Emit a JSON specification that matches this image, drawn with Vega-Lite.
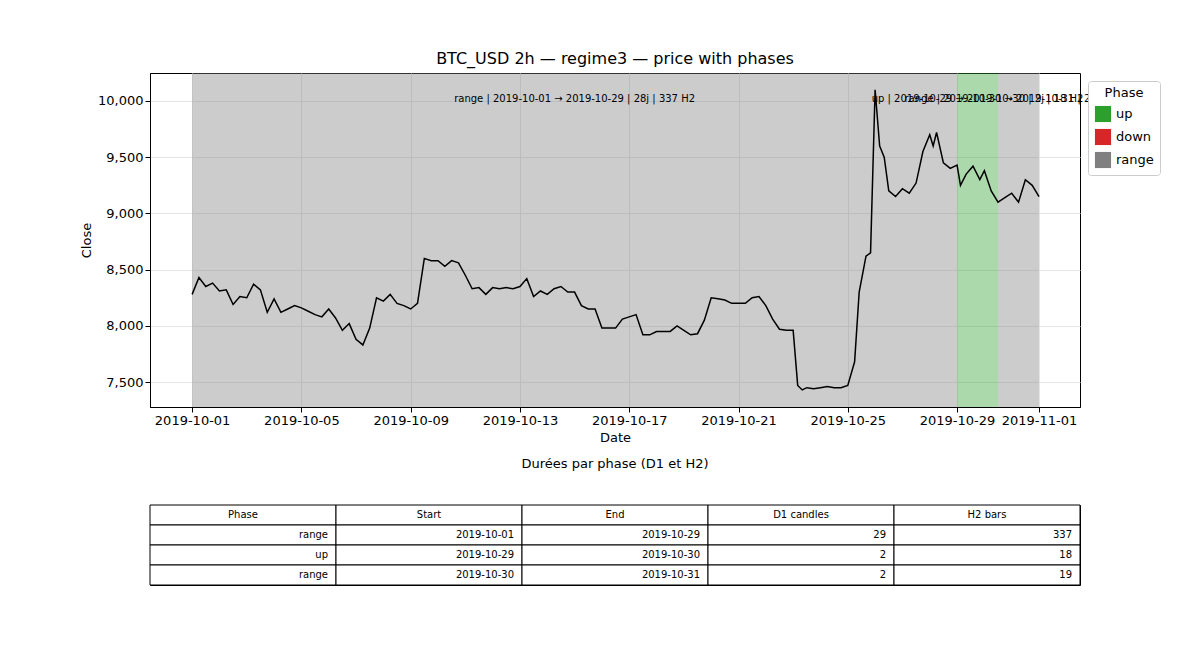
{
  "$schema": "https://vega.github.io/schema/vega-lite/v6.json",
  "autosize": {"type": "pad"},
  "padding": {"left": 80, "top": 50, "right": 5, "bottom": 5},
  "background": "white",
  "config": {
    "font": "DejaVu Sans",
    "view": {"stroke": "black", "strokeWidth": 1},
    "axis": {"labelFontSize": 13, "titleFontSize": 13, "labelColor": "black", "titleColor": "black", "tickColor": "black", "domainColor": "black", "titleFontWeight": "normal", "gridColor": "#e6e6e6"},
    "title": {"fontWeight": "normal", "color": "black"}
  },
  "spacing": 12,
  "vconcat": [
    {
      "width": 930,
      "height": 334,
      "title": {"text": "BTC_USD 2h — regime3 — price with phases", "fontSize": 16, "offset": 6},
      "layer": [
        {
          "data": {"values": [
            {"phase": "range", "start": "2019-10-01T00:00", "end": "2019-10-29T00:00"},
            {"phase": "up", "start": "2019-10-29T00:00", "end": "2019-10-30T12:00"},
            {"phase": "range", "start": "2019-10-30T12:00", "end": "2019-11-01T00:00"}
          ]},
          "mark": {"type": "rect", "opacity": 0.4},
          "encoding": {
            "x": {"field": "start", "type": "temporal"},
            "x2": {"field": "end"},
            "color": {
              "field": "phase", "type": "nominal",
              "scale": {"domain": ["up", "down", "range"], "range": ["#2ca02c", "#d62728", "#808080"]},
              "legend": {
                "title": "Phase", "orient": "none", "legendX": 938, "legendY": 8,
                "symbolType": "square", "symbolSize": 260, "symbolOpacity": 1,
                "titleFontSize": 13, "titleFontWeight": "normal", "labelFontSize": 13,
                "titleAnchor": "middle", "fillColor": "white", "strokeColor": "#cccccc",
                "padding": 6, "cornerRadius": 3, "rowPadding": 5
              }
            }
          }
        },
        {
          "data": {"values": [
            {"t": "2019-10-01T00:00", "c": 8280}, {"t": "2019-10-01T06:00", "c": 8430}, {"t": "2019-10-01T12:00", "c": 8350}, {"t": "2019-10-01T18:00", "c": 8380},
            {"t": "2019-10-02T00:00", "c": 8310}, {"t": "2019-10-02T06:00", "c": 8320}, {"t": "2019-10-02T12:00", "c": 8190}, {"t": "2019-10-02T18:00", "c": 8260},
            {"t": "2019-10-03T00:00", "c": 8250}, {"t": "2019-10-03T06:00", "c": 8370}, {"t": "2019-10-03T12:00", "c": 8320}, {"t": "2019-10-03T18:00", "c": 8120},
            {"t": "2019-10-04T00:00", "c": 8240}, {"t": "2019-10-04T06:00", "c": 8120}, {"t": "2019-10-04T12:00", "c": 8150}, {"t": "2019-10-04T18:00", "c": 8180},
            {"t": "2019-10-05T00:00", "c": 8160}, {"t": "2019-10-05T06:00", "c": 8130}, {"t": "2019-10-05T12:00", "c": 8100}, {"t": "2019-10-05T18:00", "c": 8080},
            {"t": "2019-10-06T00:00", "c": 8150}, {"t": "2019-10-06T06:00", "c": 8070}, {"t": "2019-10-06T12:00", "c": 7960}, {"t": "2019-10-06T18:00", "c": 8020},
            {"t": "2019-10-07T00:00", "c": 7880}, {"t": "2019-10-07T06:00", "c": 7830}, {"t": "2019-10-07T12:00", "c": 7980}, {"t": "2019-10-07T18:00", "c": 8250},
            {"t": "2019-10-08T00:00", "c": 8220}, {"t": "2019-10-08T06:00", "c": 8280}, {"t": "2019-10-08T12:00", "c": 8200}, {"t": "2019-10-08T18:00", "c": 8180},
            {"t": "2019-10-09T00:00", "c": 8150}, {"t": "2019-10-09T06:00", "c": 8200}, {"t": "2019-10-09T12:00", "c": 8600}, {"t": "2019-10-09T18:00", "c": 8580},
            {"t": "2019-10-10T00:00", "c": 8580}, {"t": "2019-10-10T06:00", "c": 8530}, {"t": "2019-10-10T12:00", "c": 8580}, {"t": "2019-10-10T18:00", "c": 8560},
            {"t": "2019-10-11T00:00", "c": 8450}, {"t": "2019-10-11T06:00", "c": 8330}, {"t": "2019-10-11T12:00", "c": 8340}, {"t": "2019-10-11T18:00", "c": 8280},
            {"t": "2019-10-12T00:00", "c": 8340}, {"t": "2019-10-12T06:00", "c": 8330}, {"t": "2019-10-12T12:00", "c": 8340}, {"t": "2019-10-12T18:00", "c": 8330},
            {"t": "2019-10-13T00:00", "c": 8350}, {"t": "2019-10-13T06:00", "c": 8420}, {"t": "2019-10-13T12:00", "c": 8260}, {"t": "2019-10-13T18:00", "c": 8310},
            {"t": "2019-10-14T00:00", "c": 8280}, {"t": "2019-10-14T06:00", "c": 8330}, {"t": "2019-10-14T12:00", "c": 8350}, {"t": "2019-10-14T18:00", "c": 8300},
            {"t": "2019-10-15T00:00", "c": 8300}, {"t": "2019-10-15T06:00", "c": 8180}, {"t": "2019-10-15T12:00", "c": 8150}, {"t": "2019-10-15T18:00", "c": 8150},
            {"t": "2019-10-16T00:00", "c": 7980}, {"t": "2019-10-16T06:00", "c": 7980}, {"t": "2019-10-16T12:00", "c": 7980}, {"t": "2019-10-16T18:00", "c": 8060},
            {"t": "2019-10-17T00:00", "c": 8080}, {"t": "2019-10-17T06:00", "c": 8100}, {"t": "2019-10-17T12:00", "c": 7920}, {"t": "2019-10-17T18:00", "c": 7920},
            {"t": "2019-10-18T00:00", "c": 7950}, {"t": "2019-10-18T06:00", "c": 7950}, {"t": "2019-10-18T12:00", "c": 7950}, {"t": "2019-10-18T18:00", "c": 8000},
            {"t": "2019-10-19T00:00", "c": 7960}, {"t": "2019-10-19T06:00", "c": 7920}, {"t": "2019-10-19T12:00", "c": 7930}, {"t": "2019-10-19T18:00", "c": 8050},
            {"t": "2019-10-20T00:00", "c": 8250}, {"t": "2019-10-20T06:00", "c": 8240}, {"t": "2019-10-20T12:00", "c": 8230}, {"t": "2019-10-20T18:00", "c": 8200},
            {"t": "2019-10-21T00:00", "c": 8200}, {"t": "2019-10-21T06:00", "c": 8200}, {"t": "2019-10-21T12:00", "c": 8250}, {"t": "2019-10-21T18:00", "c": 8260},
            {"t": "2019-10-22T00:00", "c": 8180}, {"t": "2019-10-22T06:00", "c": 8060}, {"t": "2019-10-22T12:00", "c": 7970}, {"t": "2019-10-22T18:00", "c": 7960},
            {"t": "2019-10-23T00:00", "c": 7960}, {"t": "2019-10-23T04:00", "c": 7470}, {"t": "2019-10-23T08:00", "c": 7430}, {"t": "2019-10-23T12:00", "c": 7450}, {"t": "2019-10-23T18:00", "c": 7440},
            {"t": "2019-10-24T00:00", "c": 7450}, {"t": "2019-10-24T06:00", "c": 7460}, {"t": "2019-10-24T12:00", "c": 7450}, {"t": "2019-10-24T18:00", "c": 7450},
            {"t": "2019-10-25T00:00", "c": 7470}, {"t": "2019-10-25T06:00", "c": 7680}, {"t": "2019-10-25T10:00", "c": 8300}, {"t": "2019-10-25T16:00", "c": 8620}, {"t": "2019-10-25T20:00", "c": 8650},
            {"t": "2019-10-26T00:00", "c": 10100}, {"t": "2019-10-26T04:00", "c": 9600}, {"t": "2019-10-26T08:00", "c": 9500}, {"t": "2019-10-26T12:00", "c": 9200}, {"t": "2019-10-26T18:00", "c": 9150},
            {"t": "2019-10-27T00:00", "c": 9220}, {"t": "2019-10-27T06:00", "c": 9180}, {"t": "2019-10-27T12:00", "c": 9270}, {"t": "2019-10-27T18:00", "c": 9550},
            {"t": "2019-10-28T00:00", "c": 9700}, {"t": "2019-10-28T03:00", "c": 9600}, {"t": "2019-10-28T06:00", "c": 9720}, {"t": "2019-10-28T12:00", "c": 9450}, {"t": "2019-10-28T18:00", "c": 9400},
            {"t": "2019-10-29T00:00", "c": 9430}, {"t": "2019-10-29T03:00", "c": 9250}, {"t": "2019-10-29T08:00", "c": 9350}, {"t": "2019-10-29T14:00", "c": 9420}, {"t": "2019-10-29T20:00", "c": 9300},
            {"t": "2019-10-30T00:00", "c": 9380}, {"t": "2019-10-30T06:00", "c": 9200}, {"t": "2019-10-30T12:00", "c": 9100}, {"t": "2019-10-30T18:00", "c": 9140},
            {"t": "2019-10-31T00:00", "c": 9180}, {"t": "2019-10-31T06:00", "c": 9100}, {"t": "2019-10-31T12:00", "c": 9300}, {"t": "2019-10-31T18:00", "c": 9250},
            {"t": "2019-11-01T00:00", "c": 9150}
          ]},
          "mark": {"type": "line", "color": "black", "strokeWidth": 1.5},
          "encoding": {
            "x": {
              "field": "t", "type": "temporal", "title": "Date",
              "scale": {"domain": ["2019-09-29T11:00", "2019-11-02T12:00"]},
              "axis": {
                "format": "%Y-%m-%d", "grid": true, "labelFlush": false,
                "values": ["2019-10-01T00:00", "2019-10-05T00:00", "2019-10-09T00:00", "2019-10-13T00:00", "2019-10-17T00:00", "2019-10-21T00:00", "2019-10-25T00:00", "2019-10-29T00:00", "2019-11-01T00:00"]
              }
            },
            "y": {
              "field": "c", "type": "quantitative", "title": "Close",
              "scale": {"domain": [7278, 10249], "nice": false, "zero": false},
              "axis": {"values": [7500, 8000, 8500, 9000, 9500, 10000], "grid": true}
            }
          }
        },
        {
          "data": {"values": [
            {"label": "range | 2019-10-01 → 2019-10-29 | 28j | 337 H2", "mid": "2019-10-15T00:00", "y": 10020},
            {"label": "up | 2019-10-29 → 2019-10-30 | 2j | 18 H2", "mid": "2019-10-29T18:00", "y": 10020},
            {"label": "range | 2019-10-30 → 2019-10-31 | 2j | 19 H2", "mid": "2019-10-31T06:00", "y": 10020}
          ]},
          "mark": {"type": "text", "fontSize": 10, "color": "black"},
          "encoding": {
            "x": {"field": "mid", "type": "temporal"},
            "y": {"field": "y", "type": "quantitative"},
            "text": {"field": "label"}
          }
        }
      ]
    },
    {
      "width": 930,
      "height": 80,
      "title": {"text": "Durées par phase (D1 et H2)", "fontSize": 13, "offset": 34},
      "data": {"values": [
        {"r": 0, "col": 0, "v": "Phase"}, {"r": 0, "col": 1, "v": "Start"}, {"r": 0, "col": 2, "v": "End"}, {"r": 0, "col": 3, "v": "D1 candles"}, {"r": 0, "col": 4, "v": "H2 bars"},
        {"r": 1, "col": 0, "v": "range"}, {"r": 1, "col": 1, "v": "2019-10-01"}, {"r": 1, "col": 2, "v": "2019-10-29"}, {"r": 1, "col": 3, "v": "29"}, {"r": 1, "col": 4, "v": "337"},
        {"r": 2, "col": 0, "v": "up"}, {"r": 2, "col": 1, "v": "2019-10-29"}, {"r": 2, "col": 2, "v": "2019-10-30"}, {"r": 2, "col": 3, "v": "2"}, {"r": 2, "col": 4, "v": "18"},
        {"r": 3, "col": 0, "v": "range"}, {"r": 3, "col": 1, "v": "2019-10-30"}, {"r": 3, "col": 2, "v": "2019-10-31"}, {"r": 3, "col": 3, "v": "2"}, {"r": 3, "col": 4, "v": "19"}
      ]},
      "encoding": {
        "x": {"field": "col", "type": "ordinal", "axis": null, "scale": {"paddingInner": 0, "paddingOuter": 0}},
        "y": {"field": "r", "type": "ordinal", "axis": null, "scale": {"paddingInner": 0, "paddingOuter": 0}}
      },
      "layer": [
        {"mark": {"type": "rect", "fill": "white", "stroke": "black", "strokeWidth": 1}},
        {
          "transform": [{"filter": "datum.r == 0"}],
          "mark": {"type": "text", "fontSize": 10, "color": "black"},
          "encoding": {"text": {"field": "v"}}
        },
        {
          "transform": [{"filter": "datum.r > 0"}],
          "mark": {"type": "text", "fontSize": 10, "color": "black", "align": "right", "dx": 85},
          "encoding": {"text": {"field": "v"}}
        }
      ]
    }
  ]
}
